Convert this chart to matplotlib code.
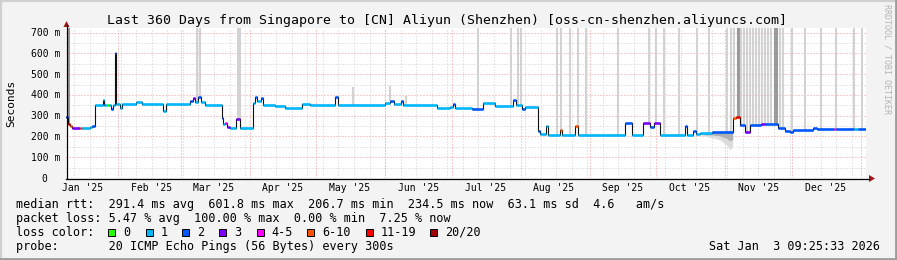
import matplotlib
matplotlib.use('Agg')
import matplotlib.pyplot as plt
from matplotlib.lines import Line2D
from matplotlib.patches import Rectangle, Polygon
import matplotlib.transforms as mtrans
from datetime import datetime, timedelta
import numpy as np

MONO = 'DejaVu Sans Mono'

# ---------------- data ----------------
title = "Last 360 Days from Singapore to [CN] Aliyun (Shenzhen) [oss-cn-shenzhen.aliyuncs.com]"
start_time = datetime(2025, 1, 8, 9, 25, 33)
end_time = datetime(2026, 1, 3, 9, 25, 33)
y_max = 722
y_ticks = [0, 100, 200, 300, 400, 500, 600, 700]
y_tick_labels = ["0  ", "100 m", "200 m", "300 m", "400 m", "500 m", "600 m", "700 m"]
month_labels = ["Jan '25", "Feb '25", "Mar '25", "Apr '25", "May '25", "Jun '25",
                "Jul '25", "Aug '25", "Sep '25", "Oct '25", "Nov '25", "Dec '25"]
month_label_days = ["2025-01-16", "2025-02-16", "2025-03-16", "2025-04-16", "2025-05-16",
                    "2025-06-16", "2025-07-16", "2025-08-16", "2025-09-16", "2025-10-16",
                    "2025-11-16", "2025-12-16"]

loss_labels = ["0", "1", "2", "3", "4-5", "6-10", "11-19", "20/20"]
loss_colors = ['#26ff00', '#00b8ff', '#0059ff', '#7e00ff', '#ff00ff', '#ff5500', '#ff0000', '#a00000']

# median rtt: segment start (day of year 2025, 1 = Jan 1 00:00), value (ms), loss bucket
seg_doy = [8.39, 9.5, 10.3, 11.0, 14.5, 15.5, 19.0, 20.0, 21.5, 25.0, 25.7, 27.0, 27.8, 28.8,
           29.5, 30.3, 30.8, 32.7, 33.4, 40.0, 42.5, 52.0, 53.5, 60.0, 64.0, 65.5, 66.5, 68.0,
           69.0, 71.0, 78.6, 79.0, 80.0, 81.0, 82.0, 85.0, 86.7, 92.5, 93.5, 94.5, 96.0, 97.0,
           102.4, 107.0, 114.6, 118.2, 129.4, 130.8, 152.0, 154.0, 156.0, 159.0, 160.0, 175.3,
           181.0, 182.5, 183.5, 188.0, 191.0, 196.0, 201.4, 209.5, 211.0, 213.6, 214.9, 220.8,
           221.5, 224.5, 225.3, 230.7, 231.5, 237.4, 238.8, 259.9, 263.1, 268.0, 271.0, 273.0,
           275.7, 286.9, 287.8, 290.5, 292.0, 293.7, 299.0, 308.5, 310.0, 311.7, 314.0, 316.2,
           321.0, 323.0, 328.8, 332.0, 334.0, 335.5, 344.5, 346.3, 354.0, 355.0, 363.0, 365.0]
seg_ms = [292, 262, 248, 240, 243, 240, 244, 252, 349, 376, 352, 350, 352, 330,
          352, 601.8, 358, 338, 355, 368, 355, 323, 355, 358, 372, 386, 365, 390,
          368, 350, 288, 258, 265, 245, 240, 283, 240, 362, 388, 370, 385, 352,
          347, 336, 356, 349, 388, 352, 362, 372, 355, 372, 350, 338,
          340, 355, 338, 336, 330, 361, 348, 377, 352, 333, 344, 225,
          211, 251, 207, 232, 207, 248, 207, 267, 207, 266, 245, 263,
          207, 248, 207, 224, 210, 215, 222, 288, 296, 256, 220, 256,
          259, 259, 240, 224, 220, 232, 240, 235, 235, 235, 235, 235]
seg_loss = [2, 6, 5, 3, 5, 1, 1, 2, 1, 1, 1, 0, 1, 2,
            1, 2, 1, 1, 1, 1, 1, 1, 1, 1, 2, 3, 1, 2,
            1, 1, 2, 1, 4, 3, 1, 3, 1, 1, 2, 1, 2, 1,
            1, 1, 1, 1, 2, 1, 1, 2, 1, 2, 1, 1,
            1, 2, 1, 1, 2, 1, 1, 2, 1, 2, 1, 2,
            1, 1, 1, 5, 1, 5, 1, 2, 1, 3, 2, 3,
            1, 2, 1, 2, 1, 1, 2, 5, 6, 2, 3, 2,
            3, 2, 2, 2, 2, 2, 2, 2, 4, 2, 1, 2]

# tall smoke (ping spread reaching high): day of year, top (ms), dark flag
smoke_doy = [9.74, 67.34, 68.69, 85.57, 86.69, 137.54, 154.19, 161.39, 193.79, 208.64, 211.79,
             212.92, 229.34, 231.14, 234.97, 238.79, 242.39, 256.79, 270.74, 273.89, 277.49,
             284.02, 292.12, 297.52, 305.62, 307.64, 308.99, 310.57, 311.24, 312.14, 313.49,
             314.84, 316.19, 317.54, 318.89, 320.24, 321.59, 322.94, 324.29, 325.64, 327.22,
             328.34, 329.69, 331.04, 334.87, 340.94, 347.92, 354.67, 362.77, 366.59]
smoke_top = [722, 722, 722, 722, 722, 440, 445, 395, 722, 722, 722,
             722, 722, 722, 722, 722, 722, 722, 722, 722, 722,
             722, 722, 722, 722, 722, 722, 722, 722, 722, 722,
             722, 722, 722, 722, 722, 722, 722, 722, 722, 722,
             722, 722, 722, 722, 722, 722, 722, 722, 722]
smoke_dark = [1, 0, 0, 0, 0, 0, 0, 0, 0, 0, 0,
              0, 0, 0, 0, 0, 0, 0, 0, 0, 0,
              0, 0, 0, 0, 0, 0, 1, 1, 0, 0,
              0, 0, 0, 0, 0, 0, 0, 0, 0, 1,
              1, 0, 0, 0, 0, 0, 0, 0, 0]

# lower smoke in late October
low_doy = [293.7, 296.7, 299.5, 302.7, 305.7, 307.2, 308.4]
low_ms = [210, 199, 193, 183, 159, 135, 150]

stats_lines = [
    "median rtt:  291.4 ms avg  601.8 ms max  206.7 ms min  234.5 ms now  63.1 ms sd  4.6   am/s",
    "packet loss: 5.47 % avg  100.00 % max  0.00 % min  7.25 % now",
    "loss color:",
    "probe:       20 ICMP Echo Pings (56 Bytes) every 300s",
]
stamp = "Sat Jan  3 09:25:33 2026"

# ---------------- figure ----------------
W, H = 897, 260
fig = plt.figure(figsize=(W / 100, H / 100), dpi=100, facecolor='#f3f3f3')


def fx(x):
    return x / W


def fy(y):
    return 1 - y / H


L, R, T, B = 66, 866, 28, 178
ax = fig.add_axes([fx(L), fy(B), (R - L) / W, (B - T) / H])
ax.set_facecolor('white')
for s in ax.spines.values():
    s.set_visible(False)
ax.set_xticks([])
ax.set_yticks([])
ax.set_xlim(start_time, end_time)
ax.set_ylim(0, y_max)


def doy2dt(v):
    return datetime(2025, 1, 1) + timedelta(days=float(v) - 1)


# grid
gray = '#cfcfcf'
red = '#f19a9a'
dot = (0, (1, 2))
for v in range(50, 720, 50):
    if v % 100:
        ax.axhline(v, color=gray, lw=0.72, ls=dot, zorder=1)
for v in range(100, 720, 100):
    ax.axhline(v, color=red, lw=0.72, ls=dot, zorder=1.1)
sun = datetime(2025, 1, 12)
while sun < end_time:
    ax.axvline(sun, color=gray, lw=0.72, ls=dot, zorder=1)
    sun += timedelta(days=7)
for y_, m_ in [(2025, m) for m in range(2, 13)] + [(2026, 1)]:
    ax.axvline(datetime(y_, m_, 1), color=red, lw=0.72, ls=dot, zorder=1.1)

# median lookup
seg_doy_a = np.array(seg_doy)
seg_ms_a = np.array(seg_ms, dtype=float)


def med_at(v):
    i = np.searchsorted(seg_doy_a, v, side='right') - 1
    return seg_ms_a[max(i, 0)]


# tall smoke bars
for dv, top, dk in zip(smoke_doy, smoke_top, smoke_dark):
    ax.vlines(doy2dt(dv), med_at(dv), top, color='#9a9a9a' if dk else '#d2d2d2',
              lw=1.5, zorder=2)

# lower smoke
low_t = [doy2dt(v) for v in low_doy]
low_med = [med_at(v) for v in low_doy]
ax.fill_between(low_t, low_ms, low_med, color='#dcdcdc', lw=0, zorder=2)
ax.fill_between(low_t, [(a + b) / 2 for a, b in zip(low_ms, low_med)], low_med,
                color='#b0b0b0', lw=0, zorder=2.1)

# median line
seg_t = [doy2dt(v) for v in seg_doy]
seg_t_end = seg_t[1:] + [end_time]
ax.step(seg_t + [end_time], seg_ms + [seg_ms[-1]], where='post', color='#111111', lw=0.8,
        zorder=3)
for t0, t1, v, c in zip(seg_t, seg_t_end, seg_ms, seg_loss):
    ax.hlines(v, t0, t1, color=loss_colors[c], lw=1.9, zorder=4)

# axes lines + arrows
fig.add_artist(Line2D([fx(L), fx(869)], [fy(B + 0.5), fy(B + 0.5)], color='black', lw=0.9))
fig.add_artist(Line2D([fx(L + 0.5), fx(L + 0.5)], [fy(B), fy(25)], color='black', lw=0.9))
arrow_c = '#a01818'
fig.add_artist(Polygon([(fx(869), fy(175)), (fx(869), fy(182)), (fx(875), fy(178.5))],
                       closed=True, color=arrow_c, lw=0))
fig.add_artist(Polygon([(fx(63.5), fy(27)), (fx(69.5), fy(27)), (fx(66.5), fy(21))],
                       closed=True, color=arrow_c, lw=0))

# tick labels
yt_trans = mtrans.offset_copy(mtrans.blended_transform_factory(ax.transAxes, ax.transData),
                              fig=fig, y=-3.5, units='dots')
for v, lab in zip(y_ticks, y_tick_labels):
    ax.text((60 - L) / (R - L), v, lab, transform=yt_trans, ha='right', va='baseline',
            fontsize=7, family=MONO, color='black', clip_on=False)
xt_trans = mtrans.blended_transform_factory(ax.transData, ax.transAxes)
for dstr, lab in zip(month_label_days, month_labels):
    ax.text(datetime.fromisoformat(dstr), (B - 191) / (B - T), lab, transform=xt_trans,
            ha='center', va='baseline', fontsize=7, family=MONO, color='black', clip_on=False)

# texts
fig.text(fx(446.5), fy(24), title, ha='center', va='baseline', fontsize=9.5, family=MONO)
fig.text(fx(11), fy(103), "Seconds", rotation=90, ha='center', va='center', fontsize=8,
         family=MONO)
fig.text(fx(887), fy(4), "RRDTOOL / TOBI OETIKER", rotation=270, ha='center', va='top',
         fontsize=6, family=MONO, color='#b4b4b4')

base = [207.7, 221.7, 235.7, 249.7]
for s, yb in zip(stats_lines, base):
    fig.text(fx(16), fy(yb), s, ha='left', va='baseline', fontsize=8.5, family=MONO)
fig.text(fx(880), fy(249.7), stamp, ha='right', va='baseline', fontsize=8.5, family=MONO)

box_x = [108.3, 145.7, 182.3, 219.3, 256.7, 306.7, 366.0, 430.0]
lab_x = [123.3, 160.7, 197.3, 234.3, 271.7, 322.3, 380.7, 445.0]
for bx, lx, c, lab in zip(box_x, lab_x, loss_colors, loss_labels):
    fig.add_artist(Rectangle((fx(bx), fy(235.5)), 7 / W, 7 / H, facecolor=c,
                             edgecolor='black', lw=0.7))
    fig.text(fx(lx), fy(235.7), lab, ha='left', va='baseline', fontsize=8.5, family=MONO)

# frame
fig.add_artist(Line2D([0, 1], [fy(0.5), fy(0.5)], color='#d0d0d0', lw=1.6))
fig.add_artist(Line2D([fx(0.5), fx(0.5)], [0, 1], color='#d0d0d0', lw=1.6))
fig.add_artist(Line2D([0, 1], [fy(258.8), fy(258.8)], color='#9c9c9c', lw=2.0))
fig.add_artist(Line2D([fx(895.8), fx(895.8)], [0, 1], color='#9c9c9c', lw=2.0))

fig.savefig('out.png', dpi=100, facecolor=fig.get_facecolor())
